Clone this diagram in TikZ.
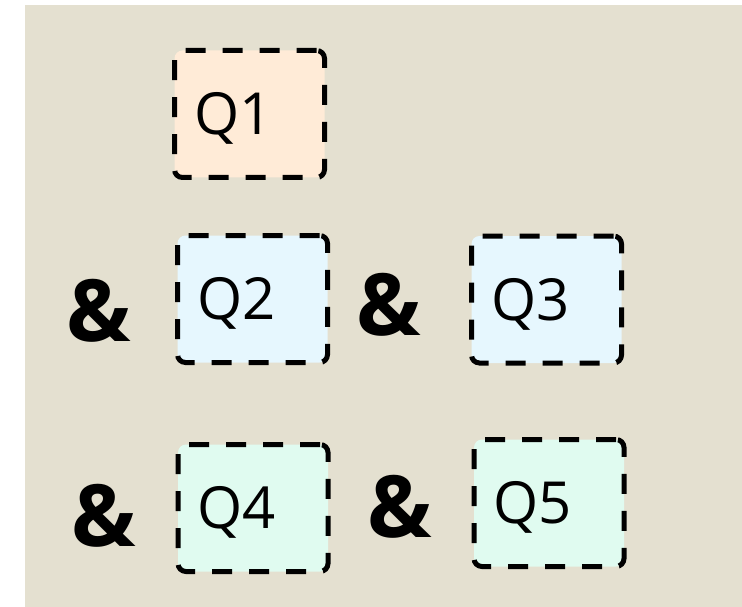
\documentclass[tikz,border=0pt]{standalone}
\usepackage{fontspec}
\setmainfont{Open Sans}
\newfontfamily\ampfont{Open Sans}
\definecolor{bgbeige}{HTML}{E4E0D0}
\definecolor{peach}{HTML}{FFEBD7}
\definecolor{iceblue}{HTML}{E6F7FE}
\definecolor{mint}{HTML}{E0FBF0}
\tikzset{
  qbox/.style={draw=black, line width=5pt, dash pattern=on 20pt off 17pt,
    rounded corners=8pt, minimum width=150pt, minimum height=127pt,
    inner xsep=19.5pt, inner ysep=0pt, outer sep=0pt, text width=111pt, align=left,
    text height=41.5pt, text depth=0pt, font=\fontsize{58}{60}\selectfont},
  ampsign/.style={inner sep=0pt, anchor=base, font=\ampfont\bfseries\fontsize{86}{88}\selectfont}
}
\begin{document}
\begin{tikzpicture}[x=1pt,y=-1pt]
\useasboundingbox (0,0) rectangle (742,607);
\fill[white] (0,0) rectangle (742,607);
\fill[bgbeige] (25,5) rectangle (742,607);
\node[qbox, fill=peach] (q1) at (249.5,114) {Q1};
\node[qbox, fill=iceblue] (q2) at (252.5,299) {Q2};
\node[qbox, fill=iceblue] (q3) at (546.5,299.5) {Q3};
\node[qbox, fill=mint] (q4) at (253,508) {Q4};
\node[qbox, fill=mint] (q5) at (549,503) {Q5};
\node[ampsign] (a1) at (99,341) {\&};
\node[ampsign] (a2) at (389,335) {\&};
\node[ampsign] (a3) at (104,546) {\&};
\node[ampsign] (a4) at (400,537) {\&};
\end{tikzpicture}
\end{document}
